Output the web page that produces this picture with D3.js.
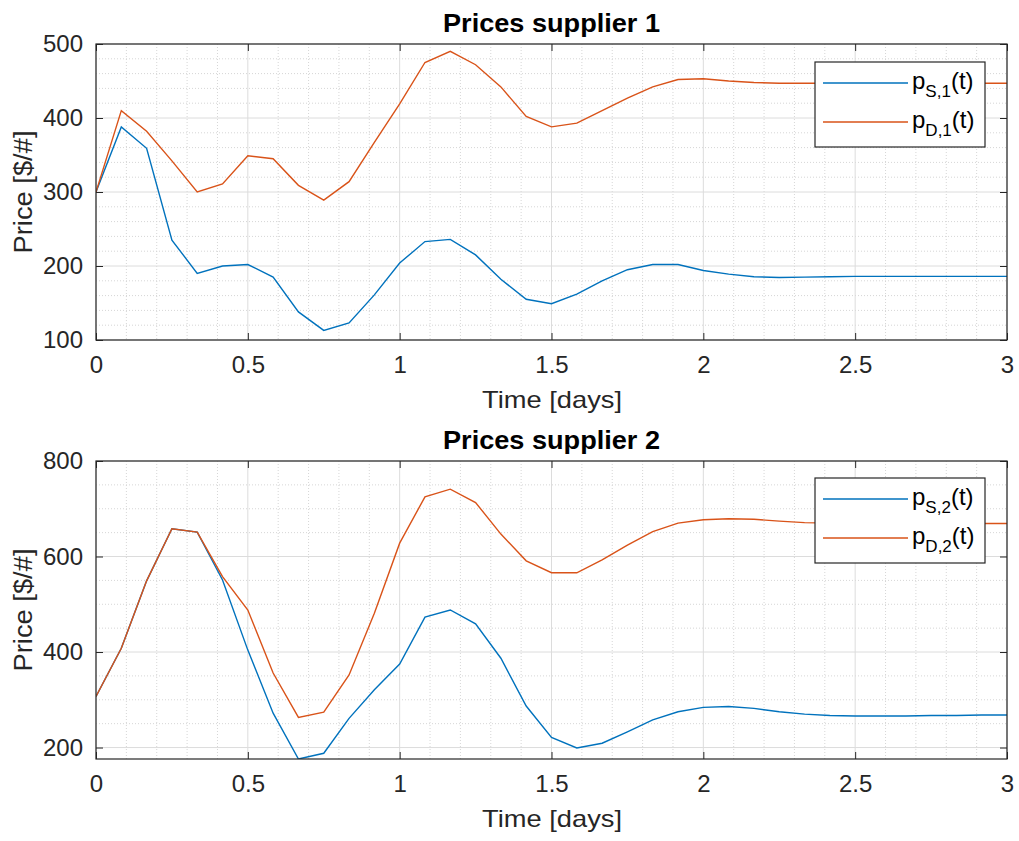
<!DOCTYPE html>
<html><head><meta charset="utf-8">
<script src="https://cdn.jsdelivr.net/npm/d3@7"></script>
<style>body{margin:0;background:#fff}svg{display:block}text{font-family:"Liberation Sans",Arial,sans-serif}</style>
</head><body>
<script>
// time samples every 1/12 day from 0 to 3
const timeDays = d3.range(37).map(i => i / 12);
const pS1 = [300,388,359,235,190,200,202,185,138,113,123,161,204,233,236,215,182,155,149,162,180,195,202,202,194,189,185.5,184.5,185,185.5,186,186,186,186,186,186,186];
const pD1 = [300,410,382,342,300,311,349,345,309,289,314,367,419,475,490,472,442,402,388,393,410,427,442,452,453,450,448,447,447,447,447,447,447,447,447,447,447];
const pS2 = [307,408,549,658,651,551,404,272,176,188,261,321,375,473,488,459,387,287,221,199,209,233,258,275,284,286,282,275,270,267,266,266,266,267,267,268,268];
const pD2 = [307,408,549,658,651,558,488,356,263,274,352,481,628,725,741,713,647,591,566,566,593,624,652,670,677,679,678,674,671,670,669,669,669,669,669,669,669];
const xTicks = [0,0.5,1,1.5,2,2.5,3];
const xTickLabels = ["0","0.5","1","1.5","2","2.5","3"];
const panels = [
  {title:"Prices supplier 1", s:pS1, d:pD1, names:["S,1","D,1"], yDomain:[100,500], yTicks:[100,200,300,400,500], yMinorStep:20, top:44, bottom:340, legTop:62},
  {title:"Prices supplier 2", s:pS2, d:pD2, names:["S,2","D,2"], yDomain:[176,800], yTicks:[200,400,600,800], yMinorStep:50, top:461, bottom:759, legTop:478}
];
const colors = ["#0072BD","#D95319"];
const W=1019,H=841, L=96, R=1007;
const svg = d3.select("body").append("svg").attr("width",W).attr("height",H);
const x = d3.scaleLinear().domain([0,3]).range([L,R]);

panels.forEach(p => {
  const y = d3.scaleLinear().domain(p.yDomain).range([p.bottom,p.top]);
  const g = svg.append("g");
  // minor grid
  const xm = d3.range(0,3.0001,0.1).filter(v=>Math.abs(v*2-Math.round(v*2))>1e-6);
  g.selectAll(".xm").data(xm).join("line").attr("x1",d=>x(d)).attr("x2",d=>x(d)).attr("y1",p.top).attr("y2",p.bottom)
    .attr("stroke","#d6d6d6").attr("stroke-width",1).attr("stroke-dasharray","1,2");
  const ym = d3.range(Math.ceil(p.yDomain[0]/p.yMinorStep)*p.yMinorStep, p.yDomain[1]+0.001, p.yMinorStep).filter(v=>!p.yTicks.includes(v));
  g.selectAll(".ym").data(ym).join("line").attr("y1",d=>y(d)).attr("y2",d=>y(d)).attr("x1",L).attr("x2",R)
    .attr("stroke","#d6d6d6").attr("stroke-width",1).attr("stroke-dasharray","1,2");
  // major grid
  g.selectAll(".xg").data(xTicks).join("line").attr("x1",d=>x(d)).attr("x2",d=>x(d)).attr("y1",p.top).attr("y2",p.bottom)
    .attr("stroke","#dcdcdc").attr("stroke-width",1);
  g.selectAll(".yg").data(p.yTicks).join("line").attr("y1",d=>y(d)).attr("y2",d=>y(d)).attr("x1",L).attr("x2",R)
    .attr("stroke","#dcdcdc").attr("stroke-width",1);
  // lines
  const clipId = "clip"+p.top;
  svg.append("clipPath").attr("id",clipId).append("rect").attr("x",L).attr("y",p.top).attr("width",R-L).attr("height",p.bottom-p.top);
  const line = d3.line().x((d,i)=>x(timeDays[i])).y(d=>y(d));
  [p.s,p.d].forEach((ser,k)=>{
    g.append("path").datum(ser).attr("d",line).attr("fill","none").attr("stroke",colors[k]).attr("stroke-width",1.4)
      .attr("clip-path",`url(#${clipId})`);
  });
  // axes
  const ax = g.append("g").attr("transform",`translate(0,${p.bottom})`)
    .call(d3.axisBottom(x).tickValues(xTicks).tickFormat((d,i)=>xTickLabels[i]).tickSizeInner(-7).tickSizeOuter(0));
  ax.selectAll("text").attr("y",33).attr("dy",0);
  const axT = g.append("g").attr("transform",`translate(0,${p.top})`)
    .call(d3.axisTop(x).tickValues(xTicks).tickFormat("").tickSizeInner(-7).tickSizeOuter(0));
  const ay = g.append("g").attr("transform",`translate(${L},0)`)
    .call(d3.axisLeft(y).tickValues(p.yTicks).tickSizeInner(-7).tickSizeOuter(0).tickPadding(13));
  const ayR = g.append("g").attr("transform",`translate(${R},0)`)
    .call(d3.axisRight(y).tickValues(p.yTicks).tickFormat("").tickSizeInner(-7).tickSizeOuter(0));
  [ax,axT,ay,ayR].forEach(a=>{a.select(".domain").remove();a.selectAll("line").attr("stroke","#262626");
    a.selectAll("text").attr("fill","#262626").style("font-size","24px");});
  g.append("rect").attr("x",L).attr("y",p.top).attr("width",R-L).attr("height",p.bottom-p.top)
    .attr("fill","none").attr("stroke","#262626").attr("stroke-width",1.2);
  // labels
  g.append("text").attr("x",(L+R)/2+0).attr("y",p.top-12).attr("text-anchor","middle").style("font-size","26px")
    .style("font-weight","bold").attr("fill","#000").attr("textLength",217).attr("lengthAdjust","spacingAndGlyphs").text(p.title);
  g.append("text").attr("x",552).attr("y",p.bottom+68).attr("text-anchor","middle").style("font-size","24px")
    .attr("fill","#262626").attr("textLength",140).attr("lengthAdjust","spacingAndGlyphs").text("Time [days]");
  g.append("text").attr("transform",`translate(32,${(p.top+p.bottom)/2}) rotate(-90)`).attr("text-anchor","middle")
    .style("font-size","25px").attr("fill","#262626").attr("textLength",123).attr("lengthAdjust","spacingAndGlyphs").text("Price [$/#]");
  // legend
  const lg = g.append("g").attr("transform",`translate(815,${p.legTop})`);
  lg.append("rect").attr("width",170).attr("height",85).attr("fill","#fff").attr("stroke","#262626").attr("stroke-width",1.2);
  p.names.forEach((nm,k)=>{
    const yy = 21 + k*39;
    lg.append("line").attr("x1",8).attr("x2",93).attr("y1",yy).attr("y2",yy).attr("stroke",colors[k]).attr("stroke-width",1.4);
    const t = lg.append("text").attr("x",97).attr("y",yy+6).attr("fill","#000").style("font-size","24px");
    t.append("tspan").text("p");
    t.append("tspan").attr("dy",8).style("font-size","17px").text(nm);
    t.append("tspan").attr("dy",-8).text("(t)");
  });
});
</script>
</body></html>
